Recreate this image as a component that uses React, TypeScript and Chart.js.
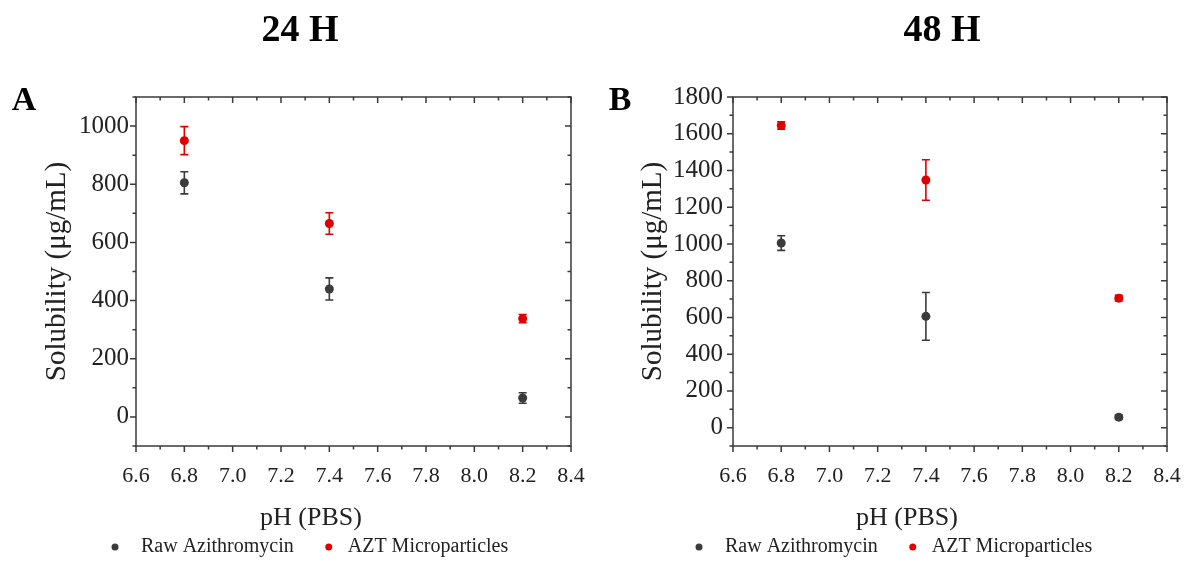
import React, { useEffect, useRef } from "react";
import { Chart, registerables } from "chart.js";

Chart.register(...registerables);

// ---------- data ----------
const phValues = [6.8, 7.4, 8.2];

const raw24 = [805, 440, 65];
const raw24Err = [38, 38, 18];
const azt24 = [950, 665, 338];
const azt24Err = [48, 37, 14];

const raw48 = [1005, 606, 57];
const raw48Err = [40, 130, 12];
const azt48 = [1645, 1348, 705];
const azt48Err = [20, 110, 16];

const xTickLabels = [6.6, 6.8, 7.0, 7.2, 7.4, 7.6, 7.8, 8.0, 8.2, 8.4];
const yTicks24 = [0, 200, 400, 600, 800, 1000];
const yTicks48 = [0, 200, 400, 600, 800, 1000, 1200, 1400, 1600, 1800];

const seriesNames = ["Raw Azithromycin", "AZT Microparticles"];
const panelTitles = ["24 H", "48 H"];
const panelLetters = ["A", "B"];
const xAxisTitle = "pH (PBS)";
const yAxisTitle = "Solubility (\u03bcg/mL)";

// ---------- styling / layout ----------
const SERIF = "'Liberation Serif', 'Times New Roman', Times, serif";
const RAW_COLOR = "#3b3b3b";
const AZT_COLOR = "#e00000";
const AXIS_COLOR = "#3a3a3a";
const TEXT_COLOR = "#222222";
const CW = 592;
const CH = 563;

type Panel = {
  raw: number[];
  rawErr: number[];
  azt: number[];
  aztErr: number[];
  yTicks: number[];
  yMin: number;
  yMax: number;
  yMinor: number;
  title: string;
  letter: string;
  plotLeft: number;
  plotRight: number;
  plotTop: number;
  plotBottom: number;
  titleX: number;
  letterX: number;
  xTitleX: number;
  yTitleX: number;
  legendX: number;
  yTickPad: number;
};

const panels: Panel[] = [
  {
    raw: raw24, rawErr: raw24Err, azt: azt24, aztErr: azt24Err,
    yTicks: yTicks24, yMin: -100, yMax: 1100, yMinor: 100,
    title: panelTitles[0], letter: panelLetters[0],
    plotLeft: 136, plotRight: 571, plotTop: 97, plotBottom: 446,
    titleX: 300, letterX: 24, xTitleX: 311, yTitleX: 57, legendX: 115, yTickPad: 7,
  },
  {
    raw: raw48, rawErr: raw48Err, azt: azt48, aztErr: azt48Err,
    yTicks: yTicks48, yMin: -100, yMax: 1800, yMinor: 100,
    title: panelTitles[1], letter: panelLetters[1],
    plotLeft: 141, plotRight: 575, plotTop: 97, plotBottom: 446,
    titleX: 350, letterX: 28, xTitleX: 315, yTitleX: 61, legendX: 107, yTickPad: 10,
  },
];

const decorPlugin = {
  id: "decor",
  beforeDatasetsDraw(chart: any, _args: any, opts: any) {
    const { ctx, scales } = chart;
    const x = scales.x;
    const y = scales.y;
    ctx.save();
    chart.data.datasets.forEach((ds: any, di: number) => {
      const errs: number[] = opts.errors[di];
      ctx.strokeStyle = ds.borderColor;
      ctx.lineWidth = 1.6;
      ds.data.forEach((p: any, i: number) => {
        const px = x.getPixelForValue(p.x);
        const top = y.getPixelForValue(p.y + errs[i]);
        const bot = y.getPixelForValue(p.y - errs[i]);
        ctx.beginPath();
        ctx.moveTo(px, top);
        ctx.lineTo(px, bot);
        ctx.moveTo(px - 4, top);
        ctx.lineTo(px + 4, top);
        ctx.moveTo(px - 4, bot);
        ctx.lineTo(px + 4, bot);
        ctx.stroke();
      });
    });
    ctx.restore();
  },
  afterDraw(chart: any, _args: any, opts: any) {
    const { ctx, chartArea: ca, scales } = chart;
    const x = scales.x;
    const y = scales.y;
    const p: Panel = opts.panel;
    ctx.save();
    // frame
    ctx.strokeStyle = AXIS_COLOR;
    ctx.lineWidth = 1.5;
    ctx.strokeRect(ca.left, ca.top, ca.right - ca.left, ca.bottom - ca.top);

    const MAJ = 6;
    const MIN = 3.5;
    const xVals: { v: number; major: boolean }[] = [];
    xTickLabels.forEach((v, i) => {
      xVals.push({ v, major: true });
      if (i < xTickLabels.length - 1) xVals.push({ v: (v + xTickLabels[i + 1]) / 2, major: false });
    });
    ctx.beginPath();
    xVals.forEach(({ v, major }) => {
      const px = x.getPixelForValue(v);
      const L = major ? MAJ : MIN;
      ctx.moveTo(px, ca.bottom);
      ctx.lineTo(px, ca.bottom + L);
      ctx.moveTo(px, ca.top);
      ctx.lineTo(px, ca.top + L);
    });
    for (let v = p.yMin; v <= p.yMax + 1e-9; v += p.yMinor) {
      const major = p.yTicks.includes(v);
      const py = y.getPixelForValue(v);
      const L = major ? MAJ : MIN;
      ctx.moveTo(ca.left, py);
      ctx.lineTo(ca.left - L, py);
      ctx.moveTo(ca.right, py);
      ctx.lineTo(ca.right - L, py);
    }
    ctx.stroke();

    // panel title
    ctx.fillStyle = "#000";
    ctx.textAlign = "center";
    ctx.textBaseline = "middle";
    ctx.font = `bold 38px ${SERIF}`;
    ctx.fillText(p.title, p.titleX, 31);
    // panel letter
    ctx.font = `bold 34px ${SERIF}`;
    ctx.fillText(p.letter, p.letterX, 101);

    // x title
    ctx.fillStyle = TEXT_COLOR;
    ctx.font = `26px ${SERIF}`;
    ctx.fillText(xAxisTitle, p.xTitleX, 518);

    // y title
    ctx.save();
    ctx.translate(p.yTitleX, (ca.top + ca.bottom) / 2);
    ctx.rotate(-Math.PI / 2);
    ctx.font = `29px ${SERIF}`;
    ctx.fillText(yAxisTitle, 0, 0);
    ctx.restore();

    // legend
    ctx.font = `20px ${SERIF}`;
    ctx.textAlign = "left";
    const ly = 547;
    let lx = p.legendX;
    const gaps = [26, 19];
    chart.data.datasets.forEach((ds: any, di: number) => {
      ctx.fillStyle = ds.backgroundColor;
      ctx.beginPath();
      ctx.arc(lx, ly, 3.5, 0, Math.PI * 2);
      ctx.fill();
      ctx.fillStyle = TEXT_COLOR;
      const tx = lx + gaps[di];
      ctx.fillText(ds.label, tx, ly);
      lx = tx + ctx.measureText(ds.label).width + 35;
    });
    ctx.restore();
  },
};

function PanelChart({ panel }: { panel: Panel }) {
  const ref = useRef<HTMLCanvasElement | null>(null);
  useEffect(() => {
    if (!ref.current) return;
    const chart = new Chart(ref.current, {
      type: "scatter",
      data: {
        datasets: [
          {
            label: seriesNames[0],
            data: phValues.map((v, i) => ({ x: v, y: panel.raw[i] })),
            backgroundColor: RAW_COLOR,
            borderColor: RAW_COLOR,
            pointRadius: 4.5,
            pointHoverRadius: 4.5,
            borderWidth: 0,
          },
          {
            label: seriesNames[1],
            data: phValues.map((v, i) => ({ x: v, y: panel.azt[i] })),
            backgroundColor: AZT_COLOR,
            borderColor: AZT_COLOR,
            pointRadius: 4.5,
            pointHoverRadius: 4.5,
            borderWidth: 0,
          },
        ],
      },
      options: {
        animation: false,
        responsive: false,
        maintainAspectRatio: false,
        events: [],
        layout: {
          padding: { left: 0, top: panel.plotTop, right: CW - panel.plotRight, bottom: 0 },
        },
        plugins: {
          legend: { display: false },
          title: { display: false },
          tooltip: { enabled: false },
          decor: { panel, errors: [panel.rawErr, panel.aztErr] },
        } as any,
        scales: {
          x: {
            type: "linear",
            min: xTickLabels[0],
            max: xTickLabels[xTickLabels.length - 1],
            afterBuildTicks: (s: any) => {
              s.ticks = xTickLabels.map((v) => ({ value: v }));
            },
            afterFit: (s: any) => {
              s.height = CH - panel.plotBottom;
              s.paddingLeft = 0;
              s.paddingRight = 0;
            },
            grid: { display: false, drawTicks: false },
            border: { display: false },
            ticks: {
              autoSkip: false,
              maxRotation: 0,
              font: { family: SERIF, size: 22 },
              color: TEXT_COLOR,
              padding: 17,
              callback: (v: any) => Number(v).toFixed(1),
            },
          },
          y: {
            type: "linear",
            min: panel.yMin,
            max: panel.yMax,
            afterBuildTicks: (s: any) => {
              s.ticks = panel.yTicks.map((v) => ({ value: v }));
            },
            afterFit: (s: any) => {
              s.width = panel.plotLeft;
              s.paddingTop = 0;
              s.paddingBottom = 0;
            },
            grid: { display: false, drawTicks: false },
            border: { display: false },
            ticks: {
              autoSkip: false,
              font: { family: SERIF, size: 25 },
              color: TEXT_COLOR,
              padding: panel.yTickPad,
              callback: (v: any) => String(v),
            },
          },
        },
      },
      plugins: [decorPlugin as any],
    });
    return () => chart.destroy();
  }, [panel]);
  return <canvas ref={ref} width={CW} height={CH} style={{ display: "block", width: CW, height: CH }} />;
}

export default function App() {
  return (
    <div
      style={{
        position: "absolute",
        left: 0,
        top: 0,
        width: CW * 2,
        height: CH,
        background: "#fff",
        display: "flex",
      }}
    >
      {panels.map((p, i) => (
        <PanelChart key={i} panel={p} />
      ))}
    </div>
  );
}
